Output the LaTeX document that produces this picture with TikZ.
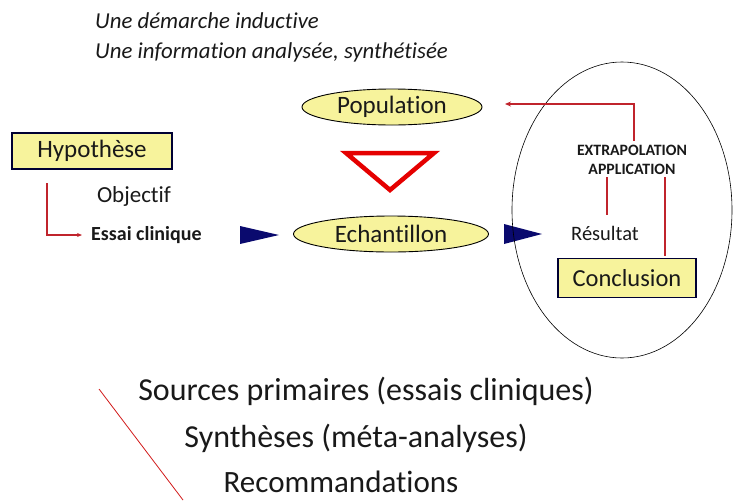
\documentclass[tikz,border=0pt]{standalone}
\usepackage{fontspec}
\setmainfont{Carlito}[Ligatures=CommonOff]
\usetikzlibrary{shapes.geometric,arrows.meta}
\definecolor{lyel}{HTML}{F7F39C}
\definecolor{navy}{HTML}{0A0A6E}
\definecolor{dred}{HTML}{C0242C}
\tikzset{
  every node/.style={inner sep=0pt, text=black!90},
  ell/.style={ellipse, draw=black, fill=lyel, line width=0.9pt},
  ybox/.style={rectangle, draw=black!80!blue, fill=lyel, line width=1.6pt},
  redline/.style={draw=dred, line width=1.3pt},
  navytri/.style={fill=navy},
}
\begin{document}
\begin{tikzpicture}[x=1pt,y=-1pt]
\useasboundingbox (0,0) rectangle (733,501);
% top texts
\node[anchor=west, font=\fontsize{22.8}{26}\selectfont\itshape] (t1) at (95,21) {Une démarche inductive};
\node[anchor=west, font=\fontsize{22.8}{26}\selectfont\itshape] (t2) at (95,52) {Une information analysée, synthétisée};
% ellipses
\node[ell, minimum width=180, minimum height=36, font=\fontsize{25}{30}\selectfont] (pop) at (392,107) {Population};
\node[ell, minimum width=195, minimum height=36, font=\fontsize{25}{30}\selectfont] (ech) at (391,234) {Echantillon};
% red triangle
\coordinate (ta) at (346,153);
\coordinate (tb) at (434,153);
\coordinate (tc) at (390,190);
\draw[draw=red!90!black, line width=4.5pt, line join=miter] (ta) -- (tb) -- (tc) -- cycle;
% hypothese
\node[ybox, minimum width=160, minimum height=36, font=\fontsize{25}{30}\selectfont] (hyp) at (92,151) {Hypothèse};
\node[font=\fontsize{23}{27}\selectfont] (obj) at (134,196) {Objectif};
\node[anchor=west, font=\fontsize{20}{24}\selectfont\bfseries] (essai) at (91,235) {Essai clinique};
\coordinate (h1) at (47,183);
\coordinate (h2) at (47,235);
\coordinate (h3) at (82,235);
\draw[redline, line width=1.1pt, -{Stealth[length=5pt,width=4pt]}] (h1) -- (h2) -- (h3);
% navy arrows
\coordinate (n1a) at (240,226); \coordinate (n1b) at (240,244); \coordinate (n1c) at (279,235);
\fill[navytri] (n1a) -- (n1c) -- (n1b) -- cycle;
\coordinate (n2a) at (504,224); \coordinate (n2b) at (504,244); \coordinate (n2c) at (542,234);
\fill[navytri] (n2a) -- (n2c) -- (n2b) -- cycle;
% big ellipse
\node[ellipse, draw=black, line width=0.6pt, minimum width=220, minimum height=296] (big) at (622,210) {};
% right side
\node[font=\fontsize{15.8}{18}\selectfont\bfseries] (extra) at (632,150) {EXTRAPOLATION};
\node[font=\fontsize{15.8}{18}\selectfont\bfseries] (appl) at (632,169) {APPLICATION};
\node[font=\fontsize{20.5}{24}\selectfont] (res) at (605,233) {Résultat};
\node[ybox, minimum width=138, minimum height=39, font=\fontsize{24.5}{29}\selectfont] (conc) at (627,278) {Conclusion};
\coordinate (e0) at (634,141);
\coordinate (e1) at (634,104);
\coordinate (e2) at (505,104);
\draw[redline, -{Stealth[length=6pt,width=5pt]}] (e0) -- (e1) -- (e2);
\coordinate (r1) at (607,177);
\coordinate (r2) at (607,215);
\draw[redline] (r1) -- (r2);
\coordinate (c1) at (665,177);
\coordinate (c2) at (665,256);
\draw[redline] (c1) -- (c2);
% bottom texts
\node[font=\fontsize{32}{38}\selectfont] (s1) at (366,391) {Sources primaires (essais cliniques)};
\node[font=\fontsize{32}{38}\selectfont] (s2) at (356,438) {Synthèses (méta-analyses)};
\node[font=\fontsize{31}{37}\selectfont] (s3) at (341,482) {Recommandations};
\coordinate (l1) at (99,389);
\coordinate (l2) at (183,500);
\draw[draw=red!80!black!90, line width=0.8pt] (l1) -- (l2);
\end{tikzpicture}
\end{document}
